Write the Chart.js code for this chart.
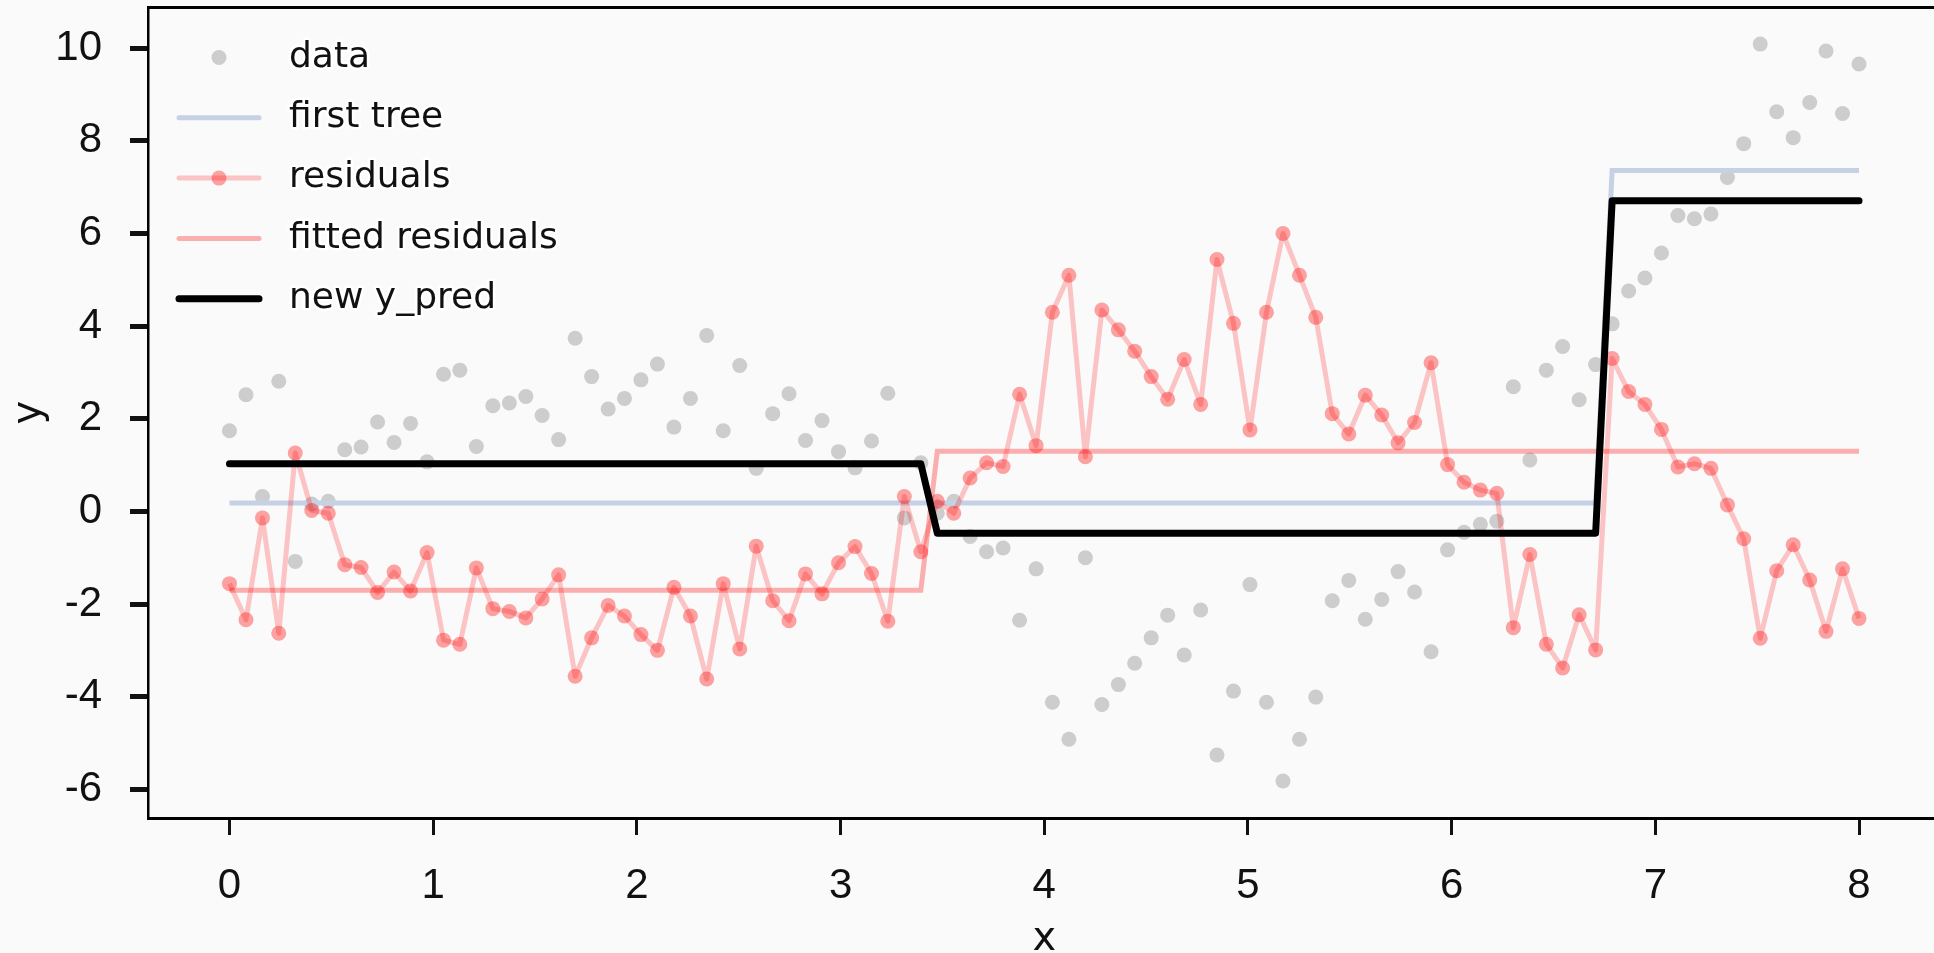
<!DOCTYPE html>
<html>
<head>
<meta charset="utf-8">
<script src="https://cdn.jsdelivr.net/npm/chart.js@4/dist/chart.umd.min.js"></script>
<style>
  html, body { margin: 0; padding: 0; background: #fafafa; overflow: hidden; }
  #chart { display: block; }
</style>
</head>
<body>
<canvas id="chart" width="1948" height="960"></canvas>
<script>
// Sample positions along x (100 evenly spaced samples from 0 to 8).
const xs = [
  0.000, 0.081, 0.162, 0.242, 0.323, 0.404, 0.485, 0.566, 0.646, 0.727,
  0.808, 0.889, 0.970, 1.051, 1.131, 1.212, 1.293, 1.374, 1.455, 1.535,
  1.616, 1.697, 1.778, 1.859, 1.939, 2.020, 2.101, 2.182, 2.263, 2.343,
  2.424, 2.505, 2.586, 2.667, 2.747, 2.828, 2.909, 2.990, 3.071, 3.152,
  3.232, 3.313, 3.394, 3.475, 3.556, 3.636, 3.717, 3.798, 3.879, 3.960,
  4.040, 4.121, 4.202, 4.283, 4.364, 4.444, 4.525, 4.606, 4.687, 4.768,
  4.848, 4.929, 5.010, 5.091, 5.172, 5.253, 5.333, 5.414, 5.495, 5.576,
  5.657, 5.737, 5.818, 5.899, 5.980, 6.061, 6.141, 6.222, 6.303, 6.384,
  6.465, 6.545, 6.626, 6.707, 6.788, 6.869, 6.949, 7.030, 7.111, 7.192,
  7.273, 7.354, 7.434, 7.515, 7.596, 7.677, 7.758, 7.838, 7.919, 8.000
];

// The gray "data" points.
const dataY = [
  1.74, 2.52, 0.32, 2.81, -1.08, 0.16, 0.22, 1.33, 1.39, 1.93,
  1.49, 1.90, 1.07, 2.96, 3.05, 1.40, 2.28, 2.34, 2.48, 2.07,
  1.55, 3.74, 2.91, 2.21, 2.44, 2.84, 3.18, 1.82, 2.44, 3.80,
  1.74, 3.15, 0.93, 2.11, 2.54, 1.53, 1.96, 1.29, 0.94, 1.52,
  2.55, -0.14, 1.05, -0.04, 0.22, -0.54, -0.87, -0.79, -2.35, -1.24,
  -4.12, -4.92, -1.00, -4.17, -3.74, -3.28, -2.73, -2.24, -3.10, -2.13,
  -5.26, -3.88, -1.58, -4.12, -5.82, -4.92, -4.01, -1.93, -1.49, -2.33,
  -1.90, -1.30, -1.74, -3.03, -0.83, -0.45, -0.28, -0.21, 2.69, 1.11,
  3.05, 3.56, 2.41, 3.17, 4.05, 4.76, 5.04, 5.58, 6.39, 6.32,
  6.42, 7.21, 7.94, 10.09, 8.63, 8.07, 8.83, 9.94, 8.59, 9.66
];

// The pink "residuals" line with markers.
const residualY = [
  -1.56, -2.34, -0.14, -2.63, 1.26, 0.02, -0.04, -1.15, -1.21, -1.75,
  -1.31, -1.72, -0.89, -2.78, -2.87, -1.22, -2.10, -2.16, -2.30, -1.89,
  -1.37, -3.56, -2.73, -2.03, -2.26, -2.66, -3.00, -1.64, -2.26, -3.62,
  -1.56, -2.97, -0.75, -1.93, -2.36, -1.35, -1.78, -1.11, -0.76, -1.34,
  -2.37, 0.32, -0.87, 0.22, -0.04, 0.72, 1.05, 0.97, 2.53, 1.42,
  4.30, 5.10, 1.18, 4.35, 3.92, 3.46, 2.91, 2.42, 3.28, 2.31,
  5.44, 4.06, 1.76, 4.30, 6.00, 5.10, 4.19, 2.11, 1.67, 2.51,
  2.08, 1.48, 1.92, 3.21, 1.01, 0.63, 0.46, 0.39, -2.51, -0.93,
  -2.87, -3.38, -2.23, -2.99, 3.30, 2.59, 2.31, 1.77, 0.96, 1.03,
  0.93, 0.14, -0.59, -2.74, -1.28, -0.72, -1.48, -2.59, -1.24, -2.31
];

// Step predictions: corner points of each step line.
const firstTreeX = [0, 6.707, 6.788, 8];
const firstTreeY = [0.18, 0.18, 7.36, 7.36];
const fittedX = [0, 3.394, 3.475, 8];
const fittedY = [-1.70, -1.70, 1.30, 1.30];
const newPredX = [0, 3.394, 3.475, 6.707, 6.788, 8];
const newPredY = [1.03, 1.03, -0.47, -0.47, 6.71, 6.71];

const xTicks = [0, 1, 2, 3, 4, 5, 6, 7, 8];
const yTicks = [-6, -4, -2, 0, 2, 4, 6, 8, 10];

const legendLabels = ['data', 'first tree', 'residuals', 'fitted residuals', 'new y_pred'];

const GRAY = 'rgba(160, 160, 160, 0.5)';
const RES_LINE = 'rgba(255, 0, 0, 0.22)';
const RES_POINT = 'rgba(255, 0, 0, 0.36)';
const FIT_LINE = 'rgba(255, 0, 0, 0.3)';
const TREE_LINE = '#c6d1e5';
const INK = '#111';
const TICK_FONT = { family: '"Liberation Sans Narrow", "Liberation Sans"', size: 42 };
const TEXT_FONT = '36px "DejaVu Sans"';
const DOT = 7.5;

const pairs = (xv, yv) => xv.map((x, i) => ({ x, y: yv[i] }));

// Top spine plus a frameless legend in the top-left corner of the axes.
const decorPlugin = {
  id: 'xkcd-decor',
  afterDraw(chart) {
    const ctx = chart.ctx;
    const { left, right, top } = chart.chartArea;
    ctx.save();
    ctx.strokeStyle = '#000';
    ctx.lineWidth = 3;
    ctx.beginPath();
    ctx.moveTo(left, top);
    ctx.lineTo(right, top);
    ctx.stroke();

    const x0 = left + 31;
    const x1 = left + 111;
    const xm = (x0 + x1) / 2;
    const textX = left + 141;
    const rowY = (i) => top + 50 + i * 60.3;
    ctx.lineCap = 'round';

    // data
    ctx.fillStyle = GRAY;
    ctx.beginPath();
    ctx.arc(xm, rowY(0), DOT, 0, Math.PI * 2);
    ctx.fill();
    // first tree
    ctx.strokeStyle = TREE_LINE;
    ctx.lineWidth = 5;
    ctx.beginPath(); ctx.moveTo(x0, rowY(1)); ctx.lineTo(x1, rowY(1)); ctx.stroke();
    // residuals
    ctx.strokeStyle = RES_LINE;
    ctx.lineWidth = 5;
    ctx.beginPath(); ctx.moveTo(x0, rowY(2)); ctx.lineTo(x1, rowY(2)); ctx.stroke();
    ctx.fillStyle = RES_POINT;
    ctx.beginPath(); ctx.arc(xm, rowY(2), DOT, 0, Math.PI * 2); ctx.fill();
    // fitted residuals
    ctx.strokeStyle = FIT_LINE;
    ctx.lineWidth = 5;
    ctx.beginPath(); ctx.moveTo(x0, rowY(3)); ctx.lineTo(x1, rowY(3)); ctx.stroke();
    // new y_pred
    ctx.strokeStyle = '#000';
    ctx.lineWidth = 7;
    ctx.beginPath(); ctx.moveTo(x0, rowY(4)); ctx.lineTo(x1, rowY(4)); ctx.stroke();

    ctx.font = TEXT_FONT;
    ctx.textBaseline = 'middle';
    ctx.textAlign = 'left';
    ctx.lineJoin = 'round';
    legendLabels.forEach((label, i) => {
      ctx.strokeStyle = '#fff';
      ctx.lineWidth = 5;
      ctx.strokeText(label, textX, rowY(i));
      ctx.fillStyle = INK;
      ctx.fillText(label, textX, rowY(i));
    });
    ctx.restore();
  }
};

new Chart(document.getElementById('chart'), {
  type: 'scatter',
  data: {
    datasets: [
      {
        label: legendLabels[0],
        data: pairs(xs, dataY),
        showLine: false,
        pointRadius: DOT,
        pointBorderWidth: 0,
        pointBackgroundColor: GRAY,
        order: 5
      },
      {
        label: legendLabels[1],
        data: pairs(firstTreeX, firstTreeY),
        showLine: true,
        borderColor: TREE_LINE,
        borderWidth: 5,
        pointRadius: 0,
        order: 4
      },
      {
        label: legendLabels[2],
        data: pairs(xs, residualY),
        showLine: true,
        borderColor: RES_LINE,
        borderWidth: 5,
        borderJoinStyle: 'round',
        pointRadius: DOT,
        pointBorderWidth: 0,
        pointBackgroundColor: RES_POINT,
        order: 3
      },
      {
        label: legendLabels[3],
        data: pairs(fittedX, fittedY),
        showLine: true,
        borderColor: FIT_LINE,
        borderWidth: 5,
        pointRadius: 0,
        order: 2
      },
      {
        label: legendLabels[4],
        data: pairs(newPredX, newPredY),
        showLine: true,
        borderColor: '#000',
        borderWidth: 7,
        borderCapStyle: 'round',
        borderJoinStyle: 'round',
        pointRadius: 0,
        order: 1
      }
    ]
  },
  options: {
    responsive: false,
    animation: false,
    devicePixelRatio: 1,
    events: [],
    layout: { padding: { top: 7, right: 0, bottom: 0, left: 0 } },
    plugins: {
      legend: { display: false },
      tooltip: { enabled: false }
    },
    scales: {
      x: {
        type: 'linear',
        // the axes run a little past the right edge of the picture
        min: -0.4,
        max: 8.4,
        afterBuildTicks: (scale) => { scale.ticks = xTicks.map((value) => ({ value })); },
        afterFit: (scale) => {
          scale.height = 142;
          scale.paddingLeft = 0;
          scale.paddingRight = 0;
        },
        ticks: { font: TICK_FONT, color: INK, padding: 26, maxRotation: 0 },
        grid: { drawOnChartArea: false, drawTicks: true, tickLength: 17, tickWidth: 3, tickColor: INK },
        border: { display: true, color: '#000', width: 3 },
        title: {
          display: true,
          text: 'x',
          color: INK,
          font: { family: 'DejaVu Sans', size: 40, lineHeight: 1 },
          padding: 0
        }
      },
      y: {
        type: 'linear',
        min: -6.62,
        max: 10.88,
        afterBuildTicks: (scale) => { scale.ticks = yTicks.map((value) => ({ value })); },
        afterFit: (scale) => {
          scale.width = 148;
          scale.paddingTop = 0;
          scale.paddingBottom = 0;
        },
        ticks: { font: TICK_FONT, color: INK, padding: 28 },
        grid: { drawOnChartArea: false, drawTicks: true, tickLength: 18, tickWidth: 5, tickColor: INK },
        border: { display: true, color: '#000', width: 2.5 },
        title: {
          display: true,
          text: 'y',
          color: INK,
          font: { family: 'DejaVu Sans', size: 40, lineHeight: 1 },
          padding: 10
        }
      }
    }
  },
  plugins: [decorPlugin]
});
</script>
</body>
</html>
